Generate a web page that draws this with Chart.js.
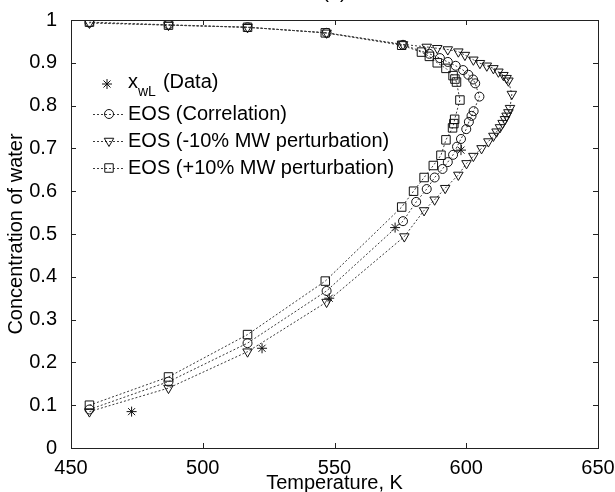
<!DOCTYPE html>
<html>
<head>
<meta charset="utf-8">
<script src="https://cdn.jsdelivr.net/npm/chart.js@4.4.1/dist/chart.umd.min.js"></script>
<style>
  html, body { margin: 0; padding: 0; background: #fff; }
  #wrap { width: 615px; height: 492px; }
</style>
</head>
<body>
<div id="wrap"><canvas id="c" width="615" height="492"></canvas></div>
<script>
// Axis ticks
const xTicks = [450, 500, 550, 600, 650];
const yTicks = [0, 0.1, 0.2, 0.3, 0.4, 0.5, 0.6, 0.7, 0.8, 0.9, 1];

// Measured liquid-phase water fraction x_wL
const dataT = [473, 522.5, 548, 573, 598];
const dataC = [0.085, 0.233, 0.35, 0.515, 0.696];

// EOS with correlated molecular weight (lower branch -> critical nose -> upper branch)
const corrT = [457, 487, 517, 547, 576, 581, 585, 588, 591, 593, 595, 596.5, 598, 600, 601, 602, 602.8,
               605, 603.4, 602.6, 600.8, 598.8, 596, 593, 590, 586, 576, 547, 517, 487, 457];
const corrC = [0.09, 0.155, 0.245, 0.367, 0.53, 0.575, 0.605, 0.632, 0.652, 0.668, 0.685, 0.704, 0.722, 0.745, 0.762, 0.776, 0.787,
               0.821, 0.852, 0.861, 0.872, 0.883, 0.893, 0.902, 0.911, 0.921, 0.942, 0.970, 0.983, 0.989, 0.994];

// EOS with molecular weight lowered by 10 %
const minusT = [457, 487, 517, 547, 576.5, 584, 588, 592, 597, 600.1, 602.7, 605.8, 608.4, 610.3, 611.5, 612.8, 613.8, 614.7, 615.3, 616, 616.6,
                617.3, 616, 615.3, 614.1, 612.2, 610.3, 607.8, 605.2, 602.7, 599.5, 597, 593, 589, 585, 576, 547, 517, 487, 457];
const minusC = [0.085, 0.14, 0.225, 0.341, 0.494, 0.555, 0.58, 0.607, 0.638, 0.665, 0.682, 0.700, 0.716, 0.729, 0.739, 0.749, 0.759, 0.768, 0.776, 0.784, 0.794,
                0.827, 0.858, 0.864, 0.871, 0.879, 0.887, 0.893, 0.899, 0.907, 0.918, 0.926, 0.931, 0.934, 0.937, 0.943, 0.970, 0.983, 0.988, 0.993];

// EOS with molecular weight raised by 10 %
const plusT = [457, 487, 517, 546.5, 575.5, 580, 584, 587.5, 590.4, 592.3, 594.8, 595.3, 595.6,
               597.6, 596.3, 595.7, 595, 592.3, 589, 586, 583, 575.5, 546.5, 517, 487, 457];
const plusC = [0.10, 0.166, 0.265, 0.39, 0.563, 0.60, 0.632, 0.66, 0.684, 0.72, 0.748, 0.758, 0.768,
               0.813, 0.855, 0.862, 0.87, 0.887, 0.9, 0.915, 0.925, 0.941, 0.970, 0.983, 0.988, 0.995];

const toPts = (xs, ys) => xs.map((x, i) => ({ x: x, y: ys[i] }));

const FONT = '"Liberation Sans", Arial, Helvetica, sans-serif';
const LINE_COLOR = '#3a3a3a';
const MARK_COLOR = '#111';

const eosStyle = (style, radius, rotation) => ({
  showLine: true,
  borderColor: LINE_COLOR,
  borderWidth: 1,
  borderDash: [2, 2],
  tension: 0,
  pointStyle: style,
  pointRadius: radius,
  pointRotation: rotation || 0,
  pointBorderColor: MARK_COLOR,
  pointBackgroundColor: 'rgba(0,0,0,0)',
  pointBorderWidth: 1
});

const datasets = [
  Object.assign({ label: 'EOS (Correlation)', data: toPts(corrT, corrC) }, eosStyle('circle', 4.5)),
  Object.assign({ label: 'EOS (-10% MW perturbation)', data: toPts(minusT, minusC) }, eosStyle('triangle', 5.5, 180)),
  Object.assign({ label: 'EOS (+10% MW perturbation)', data: toPts(plusT, plusC) }, eosStyle('rect', 6)),
  {
    label: 'x_wL (Data)', data: toPts(dataT, dataC), showLine: false,
    pointStyle: 'star', pointRadius: 5, pointBorderColor: MARK_COLOR, pointBorderWidth: 1
  }
];

// Box frame with inward ticks, legend and clipped panel title
const framePlugin = {
  id: 'frame',
  afterDraw(chart) {
    const { ctx, chartArea: a, scales } = chart;
    ctx.save();
    ctx.strokeStyle = '#222';
    ctx.lineWidth = 1;
    ctx.setLineDash([]);
    ctx.strokeRect(Math.round(a.left) + 0.5, Math.round(a.top) + 0.5,
                   Math.round(a.right - a.left), Math.round(a.bottom - a.top));
    const tl = 5;
    ctx.beginPath();
    xTicks.forEach(v => {
      const px = Math.round(scales.x.getPixelForValue(v)) + 0.5;
      ctx.moveTo(px, a.bottom); ctx.lineTo(px, a.bottom - tl);
      ctx.moveTo(px, a.top); ctx.lineTo(px, a.top + tl);
    });
    yTicks.forEach(v => {
      const py = Math.round(scales.y.getPixelForValue(v)) + 0.5;
      ctx.moveTo(a.left, py); ctx.lineTo(a.left + tl, py);
      ctx.moveTo(a.right, py); ctx.lineTo(a.right - tl, py);
    });
    ctx.stroke();

    // Legend
    const ds = chart.data.datasets;
    const rows = [
      { d: ds[3], y: 84, data: true },
      { d: ds[0], y: 114 },
      { d: ds[1], y: 141 },
      { d: ds[2], y: 168 }
    ];
    const mx = 109, textX = 128;
    ctx.fillStyle = '#000';
    ctx.textBaseline = 'middle';
    ctx.textAlign = 'left';
    rows.forEach(r => {
      const d = r.d;
      if (!r.data) {
        ctx.save();
        ctx.strokeStyle = LINE_COLOR;
        ctx.setLineDash([2, 2]);
        ctx.beginPath();
        ctx.moveTo(93, r.y + 0.5); ctx.lineTo(125, r.y + 0.5);
        ctx.stroke();
        ctx.restore();
      }
      ctx.save();
      ctx.strokeStyle = MARK_COLOR;
      ctx.fillStyle = 'rgba(0,0,0,0)';
      ctx.lineWidth = 1;
      Chart.helpers.drawPoint(ctx, {
        pointStyle: d.pointStyle, radius: d.pointRadius, rotation: d.pointRotation || 0, borderWidth: 1
      }, r.data ? 107 : mx, r.y);
      ctx.restore();
      ctx.fillStyle = '#000';
      if (r.data) {
        ctx.font = '20px ' + FONT;
        ctx.fillText('x', textX, r.y - 2);
        let x = textX + ctx.measureText('x').width;
        ctx.font = '14px ' + FONT;
        ctx.fillText('wL', x, r.y + 8);
        x += ctx.measureText('wL').width + 7;
        ctx.font = '20px ' + FONT;
        ctx.fillText('(Data)', x, r.y - 2);
      } else {
        ctx.font = '20px ' + FONT;
        ctx.fillText(d.label, textX, r.y);
      }
    });

    // Panel title, mostly above the canvas edge
    ctx.font = '20px ' + FONT;
    ctx.textAlign = 'center';
    ctx.textBaseline = 'alphabetic';
    ctx.fillText('(a)', (a.left + a.right) / 2, -2);
    ctx.restore();
  }
};

new Chart(document.getElementById('c'), {
  type: 'scatter',
  data: { datasets: datasets },
  plugins: [framePlugin],
  options: {
    responsive: false,
    animation: false,
    devicePixelRatio: 1,
    layout: { padding: { top: 20, right: 17, left: 0, bottom: 0 } },
    plugins: { legend: { display: false }, tooltip: { enabled: false }, title: { display: false } },
    scales: {
      x: {
        type: 'linear', min: 450, max: 650,
        afterBuildTicks: s => { s.ticks = xTicks.map(v => ({ value: v })); },
        afterFit: s => { s.height = 44; },
        grid: { display: false },
        border: { display: false },
        ticks: { color: '#000', font: { family: FONT, size: 20 }, padding: 0, maxRotation: 0, autoSkip: false },
        title: { display: true, text: 'Temperature, K', color: '#000', font: { family: FONT, size: 20 }, padding: { top: 0, bottom: -3 } }
      },
      y: {
        type: 'linear', min: 0, max: 1,
        afterBuildTicks: s => { s.ticks = yTicks.map(v => ({ value: v })); },
        afterFit: s => { s.width = 71; },
        grid: { display: false },
        border: { display: false },
        ticks: {
          color: '#000', font: { family: FONT, size: 20 }, padding: 6, autoSkip: false,
          callback: v => String(+v.toFixed(1))
        },
        title: { display: true, text: 'Concentration of water', color: '#000', font: { family: FONT, size: 20 }, padding: { top: 4, bottom: 0 } }
      }
    }
  }
});
</script>
</body>
</html>
